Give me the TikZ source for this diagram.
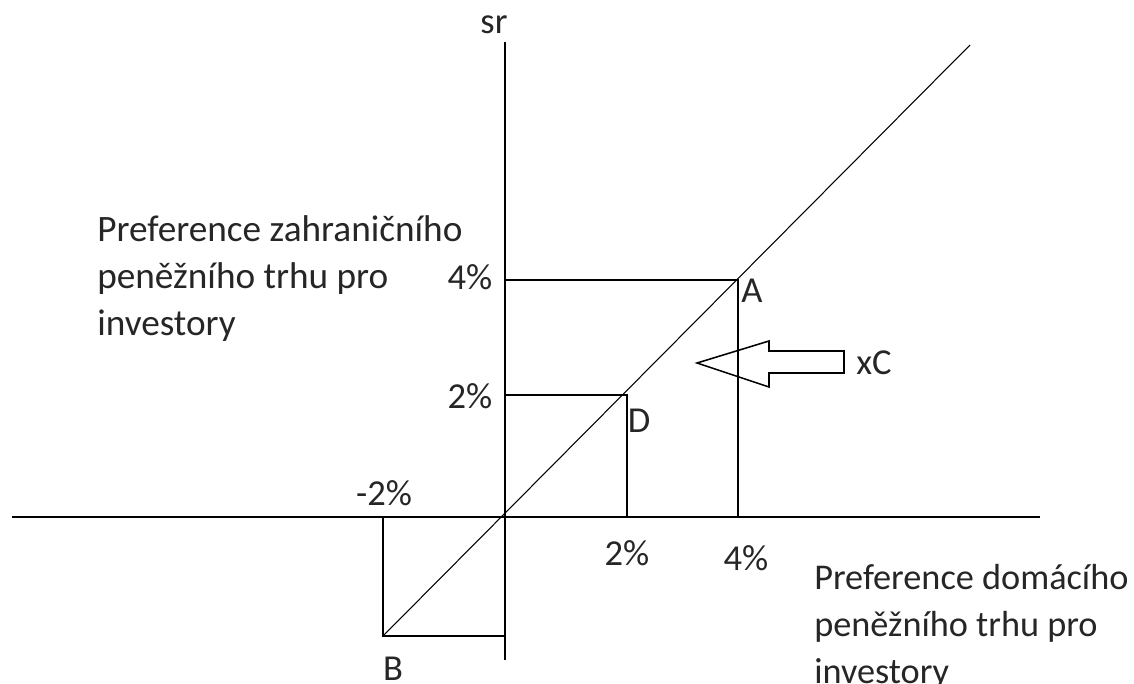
\documentclass[tikz,border=0pt]{standalone}
\usepackage{fontspec}
\setmainfont{Carlito}
\begin{document}
\begin{tikzpicture}[x=0.025cm,y=-0.025cm,
  ln/.style={line width=1.1pt,black},
  diag/.style={line width=0.75pt,black},
  lbl/.style={font=\fontsize{26}{33.4}\selectfont,inner sep=0pt,text=black!85},
  txt/.style={font=\fontsize{26.5}{33.4}\selectfont,inner sep=0pt,align=left,text=black!85}]
\useasboundingbox (0,0) rectangle (1134,684);
% points
\coordinate (O) at (505,517);
\coordinate (ytop) at (505,42);
\coordinate (ybot) at (505,660);
\coordinate (xl) at (12,517);
\coordinate (xr) at (1040,517);
\coordinate (Bp) at (383,636);
\coordinate (Dp) at (627,395);
\coordinate (Ap) at (738,280);
\coordinate (dtop) at (970,45);
\coordinate (y2) at (505,395);
\coordinate (y4) at (505,280);
\coordinate (x2) at (627,517);
\coordinate (x4) at (738,517);
\coordinate (xm2) at (383,517);
\coordinate (bB) at (505,636);
% axes
\draw[ln] (ytop) -- (ybot);
\draw[ln] (xl) -- (xr);
% diagonal
\draw[diag] (Bp) -- (dtop);
% guides
\draw[ln] (y4) -- (Ap) -- (x4);
\draw[ln] (y2) -- (Dp) -- (x2);
\draw[ln] (xm2) -- (Bp) -- (bB);
% hollow arrow
\draw[ln] (697,363) -- (769,341) -- (769,351) -- (844,351) -- (844,373) -- (769,373) -- (769,387) -- cycle;
% labels
\node[lbl] (sr) at (494,25) {sr};
\node[lbl] (xC) at (874,363) {xC};
\node[lbl] (l4) at (470,277) {4\%};
\node[lbl] (l2) at (470,396) {2\%};
\node[lbl] (lm2) at (384,493) {-2\%};
\node[lbl] (b2) at (627,553) {2\%};
\node[lbl] (b4) at (746,558) {4\%};
\node[lbl] (A) at (752,291) {A};
\node[lbl] (D) at (639,421) {D};
\node[lbl] (B) at (393,669) {B};
\node[txt,anchor=north west] (left) at (97,215) {Preference zahraničního\\peněžního trhu pro\\investory};
\node[txt,font=\fontsize{25.8}{33.4}\selectfont,anchor=north west] (right) at (814,564) {Preference domácího\\peněžního trhu pro\\investory};
\end{tikzpicture}
\end{document}
